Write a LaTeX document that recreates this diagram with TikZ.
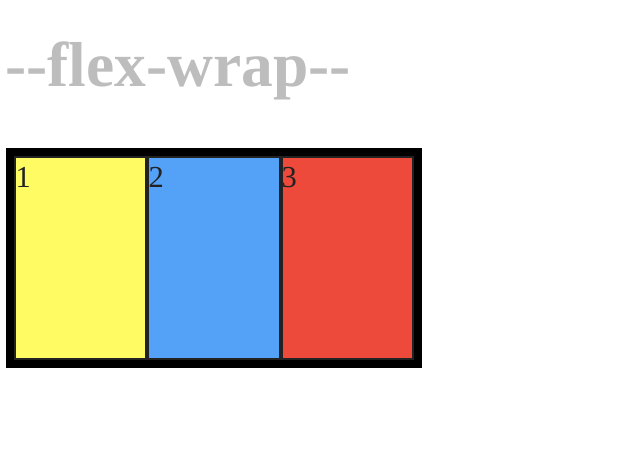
\documentclass[tikz,border=0pt]{standalone}
\usepackage{fontspec}
\setmainfont{Liberation Serif}
\definecolor{titlegray}{HTML}{BDBDBD}
\definecolor{itemborder}{HTML}{222222}
\definecolor{cyellow}{HTML}{FFFC63}
\definecolor{cblue}{HTML}{54A1F8}
\definecolor{cred}{HTML}{EE4A3B}
\begin{document}
\begin{tikzpicture}[x=1pt,y=-1pt,
  container/.style={draw=black,line width=8pt,minimum width=408pt,minimum height=212pt,inner sep=0pt},
  item/.style={draw=itemborder,line width=2pt,minimum width=131.33pt,minimum height=202pt,inner sep=0pt},
  num/.style={anchor=base west,inner sep=0pt,text=itemborder,font=\fontsize{30.5}{31}\selectfont},
  title/.style={anchor=base west,inner sep=0pt,text=titlegray,font=\bfseries\fontsize{63.5}{64}\selectfont}]
\useasboundingbox (0,0) rectangle (624,464);
\node[title] (t) at (5,86) {-{}-flex-wrap-{}-};
\node[container] (c) at (214,258) {};
\node[item,fill=cyellow] (i1) at (80.67,258) {};
\node[item,fill=cblue] (i2) at (214,258) {};
\node[item,fill=cred] (i3) at (347.33,258) {};
\node[num] (n1) at (15.5,187) {1};
\node[num] (n2) at (148.5,187) {2};
\node[num] (n3) at (281.5,187) {3};
\end{tikzpicture}
\end{document}
